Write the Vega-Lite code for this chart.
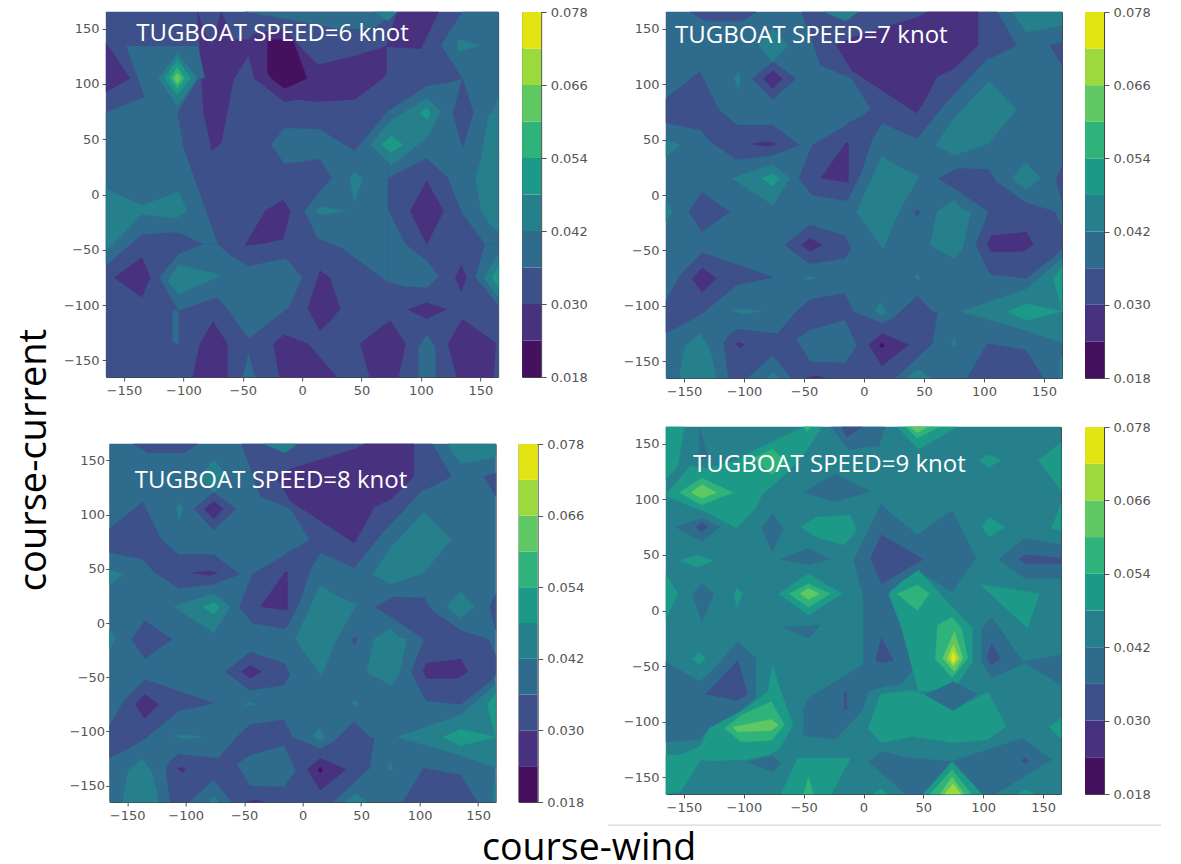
{"$schema":"https://vega.github.io/schema/vega-lite/v6.json","padding":{"left":16,"top":5,"right":0,"bottom":0},"spacing":8,"title":{"text":"course-wind","orient":"bottom","anchor":"start","dx":466,"offset":3,"font":"Open Sans","fontSize":37.5,"fontWeight":"normal","color":"#000"},"config":{"view":{"stroke":null},"axis":{"grid":false,"labelFont":"DejaVu Sans","labelFontSize":13,"labelColor":"#555","tickColor":"#555","tickSize":4,"domain":false,"title":null,"labelPadding":3}},
"datasets":{
"cb":[{"a":0.018,"b":0.024,"v":0.021},{"a":0.024,"b":0.03,"v":0.027},{"a":0.03,"b":0.036,"v":0.033},{"a":0.036,"b":0.042,"v":0.039},{"a":0.042,"b":0.048,"v":0.045},{"a":0.048,"b":0.054,"v":0.051},{"a":0.054,"b":0.06,"v":0.057},{"a":0.06,"b":0.066,"v":0.063},{"a":0.066,"b":0.072,"v":0.069},{"a":0.072,"b":0.078,"v":0.075}],
"p1":[
{"g":1,"x":-165,"y":-165,"y2":165,"v":0.033},{"g":1,"x":165,"y":-165,"y2":165,"v":0.033},
{"g":2,"x":-88,"y":165,"y2":165,"v":0.027},{"g":2,"x":-83,"y":75,"y2":148,"v":0.027},{"g":2,"x":-76,"y":40,"y2":135,"v":0.027},{"g":2,"x":-68,"y":47,"y2":165,"v":0.027},{"g":2,"x":-58,"y":104,"y2":140,"v":0.027},{"g":2,"x":-45,"y":126,"y2":140,"v":0.027},{"g":2,"x":-40,"y":105,"y2":145,"v":0.027},{"g":2,"x":-15,"y":84,"y2":150,"v":0.027},{"g":2,"x":-3,"y":86,"y2":135,"v":0.027},{"g":2,"x":13,"y":84,"y2":117,"v":0.027},{"g":2,"x":44,"y":86,"y2":125,"v":0.027},{"g":2,"x":68,"y":105,"y2":133,"v":0.027},{"g":2,"x":71,"y":110,"y2":134,"v":0.027},
{"g":3,"x":71,"y":134,"y2":134,"v":0.027},{"g":3,"x":80,"y":133,"y2":165,"v":0.027},{"g":3,"x":100,"y":132,"y2":165,"v":0.027},{"g":3,"x":115,"y":165,"y2":165,"v":0.027},
{"g":4,"x":-29,"y":110,"y2":140,"v":0.021},{"g":4,"x":-26,"y":105,"y2":140,"v":0.021},{"g":4,"x":-15,"y":96,"y2":140,"v":0.021},{"g":4,"x":-8,"y":99,"y2":140,"v":0.021},{"g":4,"x":4,"y":105,"y2":105,"v":0.021},
{"g":5,"x":-48,"y":165,"y2":165,"v":0.039},{"g":5,"x":-20,"y":160,"y2":165,"v":0.039},{"g":5,"x":30,"y":150,"y2":165,"v":0.039},{"g":5,"x":60,"y":150,"y2":165,"v":0.039},{"g":5,"x":77,"y":165,"y2":165,"v":0.039},
{"g":6,"x":61,"y":165,"y2":165,"v":0.045},{"g":6,"x":72,"y":157,"y2":165,"v":0.045},{"g":6,"x":80,"y":165,"y2":165,"v":0.045},
{"g":7,"x":-165,"y":-64,"y2":74,"v":0.039},{"g":7,"x":-135,"y":-36,"y2":87,"v":0.039},{"g":7,"x":-107,"y":-34,"y2":87,"v":0.039},{"g":7,"x":-100,"y":-36,"y2":42,"v":0.039},{"g":7,"x":-83,"y":-45,"y2":-9,"v":0.039},{"g":7,"x":-71,"y":-45,"y2":-45,"v":0.039},
{"g":8,"x":-148,"y":134,"y2":134,"v":0.039},{"g":8,"x":-132,"y":87,"y2":134,"v":0.039},{"g":8,"x":-105,"y":74,"y2":134,"v":0.039},{"g":8,"x":-88,"y":105,"y2":134,"v":0.039},{"g":8,"x":-82,"y":105,"y2":105,"v":0.039},
{"g":9,"x":-165,"y":93,"y2":137,"v":0.027},{"g":9,"x":-145,"y":105,"y2":105,"v":0.027},
{"g":10,"x":-121,"y":105,"y2":105,"v":0.045},{"g":10,"x":-105,"y":80,"y2":127,"v":0.045},{"g":10,"x":-88,"y":105,"y2":105,"v":0.045},
{"g":11,"x":-116,"y":105,"y2":105,"v":0.051},{"g":11,"x":-105,"y":90,"y2":122,"v":0.051},{"g":11,"x":-94,"y":105,"y2":105,"v":0.051},
{"g":12,"x":-111,"y":105,"y2":105,"v":0.057},{"g":12,"x":-105,"y":96,"y2":115,"v":0.057},{"g":12,"x":-99,"y":105,"y2":105,"v":0.057},
{"g":13,"x":-108,"y":105,"y2":105,"v":0.063},{"g":13,"x":-105,"y":100,"y2":110,"v":0.063},{"g":13,"x":-102,"y":105,"y2":105,"v":0.063},
{"g":14,"x":-26,"y":45,"y2":45,"v":0.039},{"g":14,"x":-15,"y":28,"y2":60,"v":0.039},{"g":14,"x":15,"y":32,"y2":59,"v":0.039},{"g":14,"x":25,"y":15,"y2":52,"v":0.039},{"g":14,"x":44,"y":15,"y2":39,"v":0.039},{"g":14,"x":72,"y":15,"y2":75,"v":0.039},
{"g":15,"x":2,"y":-15,"y2":-15,"v":0.039},{"g":15,"x":13,"y":-39,"y2":0,"v":0.039},{"g":15,"x":25,"y":-45,"y2":15,"v":0.039},{"g":15,"x":33,"y":-48,"y2":15,"v":0.039},{"g":15,"x":72,"y":-79,"y2":15,"v":0.039},
{"g":16,"x":72,"y":-79,"y2":-13,"v":0.039},{"g":16,"x":87,"y":-83,"y2":-45,"v":0.039},{"g":16,"x":105,"y":-84,"y2":-60,"v":0.039},{"g":16,"x":115,"y":-74,"y2":-74,"v":0.039},
{"g":17,"x":72,"y":15,"y2":75,"v":0.039},{"g":17,"x":105,"y":33,"y2":98,"v":0.039},{"g":17,"x":123,"y":15,"y2":101,"v":0.039},{"g":17,"x":134,"y":-15,"y2":104,"v":0.039},{"g":17,"x":135,"y":-17,"y2":165,"v":0.039},{"g":17,"x":154,"y":-45,"y2":165,"v":0.039},{"g":17,"x":165,"y":-45,"y2":165,"v":0.039},
{"g":18,"x":117,"y":135,"y2":135,"v":0.039},{"g":18,"x":135,"y":105,"y2":165,"v":0.039},
{"g":19,"x":146,"y":-75,"y2":-75,"v":0.039},{"g":19,"x":154,"y":-85,"y2":-45,"v":0.039},{"g":19,"x":165,"y":-100,"y2":-45,"v":0.039},
{"g":20,"x":127,"y":74,"y2":74,"v":0.033},{"g":20,"x":135,"y":42,"y2":105,"v":0.033},{"g":20,"x":144,"y":74,"y2":74,"v":0.033},
{"g":21,"x":131,"y":129,"y2":140,"v":0.045},{"g":21,"x":150,"y":135,"y2":135,"v":0.045},
{"g":22,"x":146,"y":15,"y2":15,"v":0.045},{"g":22,"x":151,"y":-15,"y2":33,"v":0.045},{"g":22,"x":157,"y":-25,"y2":72,"v":0.045},{"g":22,"x":161,"y":-30,"y2":75,"v":0.045},{"g":22,"x":165,"y":-33,"y2":87,"v":0.045},
{"g":23,"x":153,"y":-75,"y2":-75,"v":0.045},{"g":23,"x":165,"y":-93,"y2":-55,"v":0.045},
{"g":24,"x":160,"y":-75,"y2":-75,"v":0.051},{"g":24,"x":165,"y":-83,"y2":-65,"v":0.051},
{"g":25,"x":58,"y":45,"y2":45,"v":0.045},{"g":25,"x":71,"y":31,"y2":63,"v":0.045},{"g":25,"x":75,"y":27,"y2":67,"v":0.045},{"g":25,"x":105,"y":51,"y2":87,"v":0.045},{"g":25,"x":117,"y":75,"y2":75,"v":0.045},
{"g":26,"x":67,"y":45,"y2":45,"v":0.051},{"g":26,"x":75,"y":38,"y2":53,"v":0.051},{"g":26,"x":85,"y":45,"y2":45,"v":0.051},
{"g":27,"x":99,"y":74,"y2":74,"v":0.051},{"g":27,"x":105,"y":68,"y2":78,"v":0.051},{"g":27,"x":108,"y":74,"y2":74,"v":0.051},
{"g":28,"x":91,"y":-15,"y2":-15,"v":0.027},{"g":28,"x":105,"y":-45,"y2":12,"v":0.027},{"g":28,"x":119,"y":-15,"y2":-15,"v":0.027},
{"g":29,"x":40,"y":15,"y2":15,"v":0.045},{"g":29,"x":44,"y":-7,"y2":20,"v":0.045},{"g":29,"x":51,"y":15,"y2":15,"v":0.045},
{"g":30,"x":12,"y":-15,"y2":-15,"v":0.045},{"g":30,"x":15,"y":-18,"y2":-11,"v":0.045},{"g":30,"x":36,"y":-15,"y2":-15,"v":0.045},
{"g":31,"x":-48,"y":-46,"y2":-46,"v":0.027},{"g":31,"x":-31,"y":-44,"y2":-15,"v":0.027},{"g":31,"x":-16,"y":-40,"y2":-5,"v":0.027},{"g":31,"x":-10,"y":-15,"y2":-15,"v":0.027},
{"g":32,"x":-120,"y":-75,"y2":-75,"v":0.039},{"g":32,"x":-104,"y":-105,"y2":-54,"v":0.039},{"g":32,"x":-83,"y":-97,"y2":-45,"v":0.039},{"g":32,"x":-71,"y":-93,"y2":-45,"v":0.039},{"g":32,"x":-61,"y":-106,"y2":-55,"v":0.039},{"g":32,"x":-45,"y":-130,"y2":-65,"v":0.039},{"g":32,"x":-15,"y":-105,"y2":-58,"v":0.039},{"g":32,"x":-12,"y":-103,"y2":-60,"v":0.039},{"g":32,"x":0,"y":-75,"y2":-75,"v":0.039},
{"g":33,"x":-109,"y":-133,"y2":-105,"v":0.039},{"g":33,"x":-104,"y":-136,"y2":-105,"v":0.039},
{"g":34,"x":-113,"y":-78,"y2":-78,"v":0.045},{"g":34,"x":-104,"y":-90,"y2":-64,"v":0.045},{"g":34,"x":-68,"y":-73,"y2":-73,"v":0.045},
{"g":35,"x":-165,"y":-51,"y2":5,"v":0.045},{"g":35,"x":-135,"y":-18,"y2":-10,"v":0.045},{"g":35,"x":-107,"y":-21,"y2":1,"v":0.045},{"g":35,"x":-104,"y":-20,"y2":2,"v":0.045},{"g":35,"x":-97,"y":-15,"y2":-15,"v":0.045},
{"g":36,"x":-158,"y":-75,"y2":-75,"v":0.027},{"g":36,"x":-135,"y":-93,"y2":-57,"v":0.027},{"g":36,"x":-128,"y":-75,"y2":-75,"v":0.027},
{"g":37,"x":5,"y":-103,"y2":-103,"v":0.027},{"g":37,"x":15,"y":-123,"y2":-69,"v":0.027},{"g":37,"x":23,"y":-115,"y2":-75,"v":0.027},{"g":37,"x":32,"y":-103,"y2":-103,"v":0.027},
{"g":38,"x":129,"y":-75,"y2":-75,"v":0.027},{"g":38,"x":134,"y":-88,"y2":-64,"v":0.027},{"g":38,"x":138,"y":-75,"y2":-75,"v":0.027},
{"g":39,"x":89,"y":-104,"y2":-104,"v":0.027},{"g":39,"x":105,"y":-112,"y2":-98,"v":0.027},{"g":39,"x":121,"y":-104,"y2":-104,"v":0.027},
{"g":40,"x":-92,"y":-165,"y2":-165,"v":0.027},{"g":40,"x":-86,"y":-165,"y2":-135,"v":0.027},{"g":40,"x":-75,"y":-165,"y2":-115,"v":0.027},{"g":40,"x":-63,"y":-165,"y2":-135,"v":0.027},
{"g":41,"x":-24,"y":-135,"y2":-135,"v":0.027},{"g":41,"x":-19,"y":-165,"y2":-130,"v":0.027},{"g":41,"x":-15,"y":-165,"y2":-127,"v":0.027},{"g":41,"x":5,"y":-165,"y2":-135,"v":0.027},{"g":41,"x":29,"y":-165,"y2":-165,"v":0.027},
{"g":42,"x":49,"y":-135,"y2":-135,"v":0.027},{"g":42,"x":57,"y":-165,"y2":-128,"v":0.027},{"g":42,"x":74,"y":-165,"y2":-114,"v":0.027},{"g":42,"x":81,"y":-165,"y2":-125,"v":0.027},{"g":42,"x":87,"y":-135,"y2":-135,"v":0.027},
{"g":43,"x":123,"y":-135,"y2":-135,"v":0.027},{"g":43,"x":130,"y":-165,"y2":-122,"v":0.027},{"g":43,"x":135,"y":-165,"y2":-113,"v":0.027},{"g":43,"x":161,"y":-165,"y2":-133,"v":0.027},{"g":43,"x":163,"y":-135,"y2":-135,"v":0.027},
{"g":44,"x":-50,"y":-165,"y2":-165,"v":0.039},{"g":44,"x":-45,"y":-165,"y2":-144,"v":0.039},{"g":44,"x":-40,"y":-165,"y2":-165,"v":0.039},
{"g":45,"x":98,"y":-165,"y2":-138,"v":0.039},{"g":45,"x":105,"y":-165,"y2":-127,"v":0.039},{"g":45,"x":112,"y":-165,"y2":-138,"v":0.039}
],
"p23":[
{"g":1,"x":-165,"y":-165,"y2":165,"v":0.039},{"g":1,"x":165,"y":-165,"y2":165,"v":0.039},
{"g":2,"x":-52,"y":165,"y2":165,"v":0.033},{"g":2,"x":-36,"y":117,"y2":165,"v":0.033},{"g":2,"x":-10,"y":105,"y2":165,"v":0.033},{"g":2,"x":6,"y":77,"y2":165,"v":0.033},{"g":2,"x":15,"y":65,"y2":165,"v":0.033},{"g":2,"x":44,"y":51,"y2":165,"v":0.033},{"g":2,"x":68,"y":83,"y2":165,"v":0.033},{"g":2,"x":103,"y":123,"y2":165,"v":0.033},{"g":2,"x":111,"y":126,"y2":165,"v":0.033},{"g":2,"x":127,"y":135,"y2":135,"v":0.033},
{"g":3,"x":-33,"y":165,"y2":165,"v":0.045},{"g":3,"x":-15,"y":157,"y2":165,"v":0.045},{"g":3,"x":-5,"y":165,"y2":165,"v":0.045},
{"g":4,"x":-23,"y":135,"y2":135,"v":0.027},{"g":4,"x":-10,"y":112,"y2":142,"v":0.027},{"g":4,"x":44,"y":74,"y2":160,"v":0.027},{"g":4,"x":53,"y":90,"y2":165,"v":0.027},{"g":4,"x":61,"y":107,"y2":165,"v":0.027},{"g":4,"x":75,"y":114,"y2":165,"v":0.027},{"g":4,"x":95,"y":135,"y2":165,"v":0.027},
{"g":5,"x":-145,"y":165,"y2":165,"v":0.033},{"g":5,"x":-132,"y":157,"y2":165,"v":0.033},{"g":5,"x":-101,"y":157,"y2":165,"v":0.033},{"g":5,"x":-90,"y":165,"y2":165,"v":0.033},
{"g":6,"x":124,"y":165,"y2":165,"v":0.045},{"g":6,"x":135,"y":147,"y2":165,"v":0.045},{"g":6,"x":165,"y":153,"y2":165,"v":0.045},
{"g":7,"x":155,"y":135,"y2":135,"v":0.033},{"g":7,"x":165,"y":117,"y2":138,"v":0.033},
{"g":8,"x":-165,"y":65,"y2":87,"v":0.033},{"g":8,"x":-137,"y":59,"y2":111,"v":0.033},{"g":8,"x":-127,"y":47,"y2":90,"v":0.033},{"g":8,"x":-121,"y":43,"y2":77,"v":0.033},{"g":8,"x":-106,"y":32,"y2":63,"v":0.033},{"g":8,"x":-76,"y":36,"y2":63,"v":0.033},{"g":8,"x":-54,"y":45,"y2":45,"v":0.033},
{"g":9,"x":-94,"y":46,"y2":46,"v":0.027},{"g":9,"x":-80,"y":44,"y2":48,"v":0.027},{"g":9,"x":-73,"y":46,"y2":46,"v":0.027},
{"g":10,"x":-93,"y":105,"y2":105,"v":0.033},{"g":10,"x":-76,"y":86,"y2":120,"v":0.033},{"g":10,"x":-57,"y":105,"y2":105,"v":0.033},
{"g":11,"x":-84,"y":105,"y2":105,"v":0.027},{"g":11,"x":-76,"y":96,"y2":112,"v":0.027},{"g":11,"x":-68,"y":105,"y2":105,"v":0.027},
{"g":12,"x":-165,"y":35,"y2":49,"v":0.045},{"g":12,"x":-153,"y":45,"y2":45,"v":0.045},
{"g":13,"x":-165,"y":-24,"y2":-6,"v":0.045},{"g":13,"x":-160,"y":-15,"y2":-15,"v":0.045},
{"g":14,"x":-108,"y":105,"y2":105,"v":0.045},{"g":14,"x":-105,"y":95,"y2":111,"v":0.045},{"g":14,"x":-103,"y":105,"y2":105,"v":0.045},
{"g":15,"x":-88,"y":135,"y2":135,"v":0.045},{"g":15,"x":-76,"y":120,"y2":150,"v":0.045},{"g":15,"x":-64,"y":135,"y2":135,"v":0.045},
{"g":16,"x":-110,"y":15,"y2":15,"v":0.045},{"g":16,"x":-76,"y":-9,"y2":27,"v":0.045},{"g":16,"x":-62,"y":15,"y2":15,"v":0.045},
{"g":17,"x":-85,"y":15,"y2":15,"v":0.051},{"g":17,"x":-76,"y":8,"y2":19,"v":0.051},{"g":17,"x":-71,"y":15,"y2":15,"v":0.051},
{"g":18,"x":-54,"y":15,"y2":15,"v":0.033},{"g":18,"x":-43,"y":0,"y2":45,"v":0.033},{"g":18,"x":-16,"y":-5,"y2":62,"v":0.033},{"g":18,"x":-13,"y":-3,"y2":65,"v":0.033},{"g":18,"x":-2,"y":21,"y2":71,"v":0.033},{"g":18,"x":6,"y":48,"y2":77,"v":0.033},{"g":18,"x":15,"y":65,"y2":65,"v":0.033},
{"g":19,"x":-36,"y":15,"y2":15,"v":0.027},{"g":19,"x":-15,"y":12,"y2":47,"v":0.027},{"g":19,"x":-13,"y":12,"y2":47,"v":0.027},
{"g":20,"x":-6,"y":-15,"y2":-15,"v":0.045},{"g":20,"x":15,"y":-47,"y2":35,"v":0.045},{"g":20,"x":16,"y":-48,"y2":34,"v":0.045},{"g":20,"x":29,"y":-15,"y2":25,"v":0.045},{"g":20,"x":46,"y":17,"y2":17,"v":0.045},
{"g":21,"x":42,"y":-15,"y2":-15,"v":0.033},{"g":21,"x":44,"y":-20,"y2":-13,"v":0.033},{"g":21,"x":47,"y":-15,"y2":-15,"v":0.033},
{"g":22,"x":55,"y":-45,"y2":-45,"v":0.045},{"g":22,"x":61,"y":-49,"y2":-15,"v":0.045},{"g":22,"x":75,"y":-57,"y2":-5,"v":0.045},{"g":22,"x":82,"y":-48,"y2":-13,"v":0.045},{"g":22,"x":89,"y":-15,"y2":-15,"v":0.045},
{"g":23,"x":60,"y":45,"y2":45,"v":0.045},{"g":23,"x":75,"y":36,"y2":69,"v":0.045},{"g":23,"x":100,"y":45,"y2":98,"v":0.045},{"g":23,"x":104,"y":47,"y2":102,"v":0.045},{"g":23,"x":127,"y":77,"y2":77,"v":0.045},
{"g":24,"x":123,"y":15,"y2":15,"v":0.045},{"g":24,"x":135,"y":5,"y2":29,"v":0.045},{"g":24,"x":147,"y":15,"y2":15,"v":0.045},
{"g":25,"x":62,"y":15,"y2":15,"v":0.033},{"g":25,"x":78,"y":4,"y2":24,"v":0.033},{"g":25,"x":104,"y":-15,"y2":23,"v":0.033},{"g":25,"x":110,"y":-18,"y2":12,"v":0.033},
{"g":26,"x":93,"y":-45,"y2":-45,"v":0.033},{"g":26,"x":104,"y":-69,"y2":-15,"v":0.033},{"g":26,"x":107,"y":-72,"y2":-14,"v":0.033},{"g":26,"x":110,"y":-72,"y2":12,"v":0.033},{"g":26,"x":135,"y":-75,"y2":-7,"v":0.033},{"g":26,"x":159,"y":-55,"y2":-15,"v":0.033},{"g":26,"x":165,"y":-48,"y2":-30,"v":0.033},
{"g":27,"x":103,"y":-45,"y2":-45,"v":0.027},{"g":27,"x":106,"y":-51,"y2":-37,"v":0.027},{"g":27,"x":131,"y":-51,"y2":-34,"v":0.027},{"g":27,"x":135,"y":-49,"y2":-33,"v":0.027},{"g":27,"x":141,"y":-45,"y2":-45,"v":0.027},
{"g":28,"x":160,"y":15,"y2":15,"v":0.033},{"g":28,"x":165,"y":-6,"y2":26,"v":0.033},
{"g":29,"x":-66,"y":-45,"y2":-45,"v":0.033},{"g":29,"x":-45,"y":-62,"y2":-27,"v":0.033},{"g":29,"x":-16,"y":-57,"y2":-37,"v":0.033},{"g":29,"x":-11,"y":-48,"y2":-48,"v":0.033},
{"g":30,"x":-52,"y":-45,"y2":-45,"v":0.027},{"g":30,"x":-45,"y":-51,"y2":-39,"v":0.027},{"g":30,"x":-35,"y":-45,"y2":-45,"v":0.027},
{"g":31,"x":-146,"y":-15,"y2":-15,"v":0.033},{"g":31,"x":-135,"y":-33,"y2":2,"v":0.033},{"g":31,"x":-112,"y":-15,"y2":-15,"v":0.033},
{"g":32,"x":-165,"y":-124,"y2":-95,"v":0.033},{"g":32,"x":-153,"y":-118,"y2":-72,"v":0.033},{"g":32,"x":-135,"y":-107,"y2":-52,"v":0.033},{"g":32,"x":-106,"y":-81,"y2":-63,"v":0.033},{"g":32,"x":-76,"y":-74,"y2":-74,"v":0.033},
{"g":33,"x":-143,"y":-75,"y2":-75,"v":0.027},{"g":33,"x":-135,"y":-88,"y2":-66,"v":0.027},{"g":33,"x":-123,"y":-75,"y2":-75,"v":0.027},
{"g":34,"x":81,"y":-105,"y2":-105,"v":0.045},{"g":34,"x":135,"y":-122,"y2":-85,"v":0.045},{"g":34,"x":165,"y":-133,"y2":-57,"v":0.045},
{"g":35,"x":120,"y":-105,"y2":-105,"v":0.051},{"g":35,"x":135,"y":-113,"y2":-98,"v":0.051},{"g":35,"x":165,"y":-105,"y2":-105,"v":0.051},
{"g":36,"x":158,"y":-75,"y2":-75,"v":0.051},{"g":36,"x":165,"y":-105,"y2":-65,"v":0.051},
{"g":37,"x":-117,"y":-134,"y2":-134,"v":0.033},{"g":37,"x":-113,"y":-165,"y2":-127,"v":0.033},{"g":37,"x":-106,"y":-165,"y2":-121,"v":0.033},{"g":37,"x":-72,"y":-165,"y2":-125,"v":0.033},{"g":37,"x":-57,"y":-165,"y2":-106,"v":0.033},{"g":37,"x":-45,"y":-165,"y2":-94,"v":0.033},{"g":37,"x":-16,"y":-165,"y2":-89,"v":0.033},{"g":37,"x":-9,"y":-165,"y2":-105,"v":0.033},{"g":37,"x":15,"y":-165,"y2":-116,"v":0.033},{"g":37,"x":26,"y":-165,"y2":-110,"v":0.033},{"g":37,"x":44,"y":-147,"y2":-91,"v":0.033},{"g":37,"x":57,"y":-134,"y2":-105,"v":0.033},{"g":37,"x":61,"y":-106,"y2":-106,"v":0.033},
{"g":38,"x":-56,"y":-130,"y2":-130,"v":0.039},{"g":38,"x":-45,"y":-150,"y2":-122,"v":0.039},{"g":38,"x":-16,"y":-151,"y2":-113,"v":0.039},{"g":38,"x":-6,"y":-136,"y2":-136,"v":0.039},
{"g":39,"x":-97,"y":-165,"y2":-165,"v":0.039},{"g":39,"x":-76,"y":-165,"y2":-145,"v":0.039},{"g":39,"x":-61,"y":-165,"y2":-165,"v":0.039},
{"g":40,"x":-80,"y":-165,"y2":-165,"v":0.045},{"g":40,"x":-76,"y":-165,"y2":-160,"v":0.045},{"g":40,"x":-72,"y":-165,"y2":-165,"v":0.045},
{"g":41,"x":-107,"y":-134,"y2":-134,"v":0.027},{"g":41,"x":-103,"y":-138,"y2":-133,"v":0.027},{"g":41,"x":-100,"y":-135,"y2":-135,"v":0.027},
{"g":42,"x":4,"y":-135,"y2":-135,"v":0.027},{"g":42,"x":15,"y":-154,"y2":-125,"v":0.027},{"g":42,"x":37,"y":-135,"y2":-135,"v":0.027},
{"g":43,"x":13,"y":-136,"y2":-136,"v":0.021},{"g":43,"x":15,"y":-138,"y2":-133,"v":0.021},{"g":43,"x":17,"y":-136,"y2":-136,"v":0.021},
{"g":44,"x":-48,"y":-165,"y2":-165,"v":0.027},{"g":44,"x":-40,"y":-165,"y2":-163,"v":0.027},{"g":44,"x":-33,"y":-165,"y2":-165,"v":0.027},
{"g":45,"x":36,"y":-165,"y2":-165,"v":0.045},{"g":45,"x":45,"y":-165,"y2":-157,"v":0.045},{"g":45,"x":55,"y":-165,"y2":-165,"v":0.045},
{"g":46,"x":-154,"y":-165,"y2":-165,"v":0.045},{"g":46,"x":-149,"y":-165,"y2":-136,"v":0.045},{"g":46,"x":-137,"y":-165,"y2":-125,"v":0.045},{"g":46,"x":-129,"y":-165,"y2":-137,"v":0.045},{"g":46,"x":-123,"y":-165,"y2":-165,"v":0.045},
{"g":47,"x":-110,"y":-104,"y2":-104,"v":0.045},{"g":47,"x":-100,"y":-107,"y2":-103,"v":0.045},{"g":47,"x":-86,"y":-105,"y2":-105,"v":0.045},
{"g":48,"x":-50,"y":-75,"y2":-75,"v":0.045},{"g":48,"x":-45,"y":-76,"y2":-73,"v":0.045},{"g":48,"x":-40,"y":-75,"y2":-75,"v":0.045},
{"g":49,"x":42,"y":-74,"y2":-74,"v":0.045},{"g":49,"x":45,"y":-76,"y2":-71,"v":0.045},{"g":49,"x":47,"y":-76,"y2":-76,"v":0.045},
{"g":50,"x":9,"y":-104,"y2":-104,"v":0.045},{"g":50,"x":14,"y":-108,"y2":-97,"v":0.045},{"g":50,"x":19,"y":-106,"y2":-106,"v":0.045},
{"g":51,"x":73,"y":-134,"y2":-134,"v":0.045},{"g":51,"x":75,"y":-136,"y2":-128,"v":0.045},{"g":51,"x":77,"y":-136,"y2":-136,"v":0.045},
{"g":52,"x":86,"y":-165,"y2":-165,"v":0.033},{"g":52,"x":103,"y":-165,"y2":-134,"v":0.033},{"g":52,"x":135,"y":-165,"y2":-140,"v":0.033},{"g":52,"x":149,"y":-165,"y2":-165,"v":0.033},
{"g":53,"x":163,"y":-165,"y2":-150,"v":0.045},{"g":53,"x":165,"y":-165,"y2":-145,"v":0.045}
],
"p4":[
{"g":1,"x":-165,"y":-165,"y2":165,"v":0.045},{"g":1,"x":165,"y":-165,"y2":165,"v":0.045},
{"g":2,"x":-165,"y":103,"y2":104,"v":0.051},{"g":2,"x":-145,"y":94,"y2":130,"v":0.051},{"g":2,"x":-130,"y":88,"y2":128,"v":0.051},{"g":2,"x":-106,"y":74,"y2":135,"v":0.051},{"g":2,"x":-90,"y":92,"y2":145,"v":0.051},{"g":2,"x":-85,"y":104,"y2":147,"v":0.051},{"g":2,"x":-66,"y":122,"y2":157,"v":0.051},{"g":2,"x":-50,"y":140,"y2":165,"v":0.051},{"g":2,"x":-36,"y":163,"y2":165,"v":0.051},
{"g":3,"x":-154,"y":106,"y2":106,"v":0.057},{"g":3,"x":-135,"y":95,"y2":119,"v":0.057},{"g":3,"x":-109,"y":106,"y2":106,"v":0.057},
{"g":4,"x":-144,"y":106,"y2":106,"v":0.063},{"g":4,"x":-135,"y":101,"y2":113,"v":0.063},{"g":4,"x":-123,"y":106,"y2":106,"v":0.063},
{"g":5,"x":-92,"y":137,"y2":137,"v":0.057},{"g":5,"x":-76,"y":122,"y2":145,"v":0.057},{"g":5,"x":-66,"y":135,"y2":135,"v":0.057},
{"g":6,"x":-165,"y":118,"y2":165,"v":0.051},{"g":6,"x":-155,"y":130,"y2":165,"v":0.051},{"g":6,"x":-150,"y":165,"y2":165,"v":0.051},
{"g":7,"x":-137,"y":137,"y2":165,"v":0.039},{"g":7,"x":-130,"y":137,"y2":137,"v":0.039},
{"g":8,"x":-50,"y":165,"y2":165,"v":0.057},{"g":8,"x":-47,"y":161,"y2":165,"v":0.057},{"g":8,"x":-44,"y":165,"y2":165,"v":0.057},
{"g":9,"x":28,"y":165,"y2":165,"v":0.051},{"g":9,"x":46,"y":145,"y2":165,"v":0.051},{"g":9,"x":78,"y":165,"y2":165,"v":0.051},
{"g":10,"x":35,"y":165,"y2":165,"v":0.057},{"g":10,"x":45,"y":155,"y2":165,"v":0.057},{"g":10,"x":63,"y":165,"y2":165,"v":0.057},
{"g":11,"x":39,"y":165,"y2":165,"v":0.063},{"g":11,"x":45,"y":160,"y2":165,"v":0.063},{"g":11,"x":53,"y":165,"y2":165,"v":0.063},
{"g":12,"x":-27,"y":165,"y2":165,"v":0.039},{"g":12,"x":-13,"y":145,"y2":165,"v":0.039},{"g":12,"x":13,"y":148,"y2":165,"v":0.039},{"g":12,"x":18,"y":165,"y2":165,"v":0.039},
{"g":13,"x":-18,"y":165,"y2":165,"v":0.033},{"g":13,"x":-14,"y":156,"y2":165,"v":0.033},{"g":13,"x":-1,"y":165,"y2":165,"v":0.033},
{"g":14,"x":96,"y":135,"y2":135,"v":0.051},{"g":14,"x":105,"y":129,"y2":140,"v":0.051},{"g":14,"x":115,"y":135,"y2":135,"v":0.051},
{"g":15,"x":146,"y":135,"y2":135,"v":0.051},{"g":15,"x":165,"y":108,"y2":151,"v":0.051},
{"g":16,"x":157,"y":74,"y2":74,"v":0.051},{"g":16,"x":165,"y":72,"y2":96,"v":0.051},
{"g":17,"x":99,"y":75,"y2":75,"v":0.051},{"g":17,"x":105,"y":66,"y2":84,"v":0.051},{"g":17,"x":118,"y":75,"y2":75,"v":0.051},
{"g":18,"x":-50,"y":106,"y2":106,"v":0.039},{"g":18,"x":-24,"y":98,"y2":123,"v":0.039},{"g":18,"x":6,"y":107,"y2":107,"v":0.039},
{"g":19,"x":-52,"y":75,"y2":75,"v":0.051},{"g":19,"x":-40,"y":66,"y2":84,"v":0.051},{"g":19,"x":-17,"y":59,"y2":85,"v":0.051},{"g":19,"x":-11,"y":65,"y2":86,"v":0.051},{"g":19,"x":-6,"y":72,"y2":72,"v":0.051},
{"g":20,"x":-157,"y":75,"y2":75,"v":0.039},{"g":20,"x":-135,"y":62,"y2":83,"v":0.039},{"g":20,"x":-120,"y":75,"y2":75,"v":0.039},
{"g":21,"x":-140,"y":75,"y2":75,"v":0.033},{"g":21,"x":-135,"y":71,"y2":79,"v":0.033},{"g":21,"x":-130,"y":75,"y2":75,"v":0.033},
{"g":22,"x":-85,"y":74,"y2":74,"v":0.039},{"g":22,"x":-76,"y":53,"y2":87,"v":0.039},{"g":22,"x":-67,"y":74,"y2":74,"v":0.039},
{"g":23,"x":-153,"y":45,"y2":45,"v":0.051},{"g":23,"x":-139,"y":39,"y2":50,"v":0.051},{"g":23,"x":-125,"y":45,"y2":45,"v":0.051},
{"g":24,"x":-69,"y":46,"y2":46,"v":0.039},{"g":24,"x":-46,"y":41,"y2":56,"v":0.039},{"g":24,"x":-28,"y":46,"y2":46,"v":0.039},
{"g":25,"x":-165,"y":-7,"y2":32,"v":0.051},{"g":25,"x":-155,"y":15,"y2":15,"v":0.051},
{"g":26,"x":-71,"y":15,"y2":15,"v":0.051},{"g":26,"x":-46,"y":-4,"y2":33,"v":0.051},{"g":26,"x":-18,"y":15,"y2":15,"v":0.051},
{"g":27,"x":-62,"y":15,"y2":15,"v":0.057},{"g":27,"x":-46,"y":3,"y2":24,"v":0.057},{"g":27,"x":-28,"y":15,"y2":15,"v":0.057},
{"g":28,"x":-53,"y":15,"y2":15,"v":0.063},{"g":28,"x":-46,"y":10,"y2":20,"v":0.063},{"g":28,"x":-37,"y":15,"y2":15,"v":0.063},
{"g":29,"x":-143,"y":15,"y2":15,"v":0.039},{"g":29,"x":-135,"y":-10,"y2":24,"v":0.039},{"g":29,"x":-125,"y":15,"y2":15,"v":0.039},
{"g":30,"x":-108,"y":15,"y2":15,"v":0.051},{"g":30,"x":-106,"y":3,"y2":20,"v":0.051},{"g":30,"x":-101,"y":15,"y2":15,"v":0.051},
{"g":31,"x":-67,"y":-15,"y2":-15,"v":0.039},{"g":31,"x":-46,"y":-25,"y2":-14,"v":0.039},{"g":31,"x":-36,"y":-13,"y2":-13,"v":0.039},
{"g":32,"x":-143,"y":-43,"y2":-43,"v":0.051},{"g":32,"x":-137,"y":-49,"y2":-38,"v":0.051},{"g":32,"x":-132,"y":-43,"y2":-43,"v":0.051},
{"g":33,"x":-165,"y":-118,"y2":-46,"v":0.039},{"g":33,"x":-137,"y":-116,"y2":-64,"v":0.039},{"g":33,"x":-127,"y":-104,"y2":-55,"v":0.039},{"g":33,"x":-105,"y":-92,"y2":-28,"v":0.039},{"g":33,"x":-90,"y":-78,"y2":-43,"v":0.039},
{"g":34,"x":-132,"y":-75,"y2":-75,"v":0.033},{"g":34,"x":-105,"y":-81,"y2":-45,"v":0.033},{"g":34,"x":-97,"y":-75,"y2":-75,"v":0.033},
{"g":35,"x":-165,"y":-165,"y2":-130,"v":0.051},{"g":35,"x":-153,"y":-163,"y2":-130,"v":0.051},{"g":35,"x":-136,"y":-134,"y2":-122,"v":0.051},{"g":35,"x":-129,"y":-135,"y2":-106,"v":0.051},{"g":35,"x":-98,"y":-134,"y2":-88,"v":0.051},{"g":35,"x":-80,"y":-130,"y2":-73,"v":0.051},{"g":35,"x":-76,"y":-128,"y2":-49,"v":0.051},{"g":35,"x":-70,"y":-124,"y2":-70,"v":0.051},{"g":35,"x":-59,"y":-103,"y2":-103,"v":0.051},
{"g":36,"x":-116,"y":-106,"y2":-106,"v":0.057},{"g":36,"x":-102,"y":-118,"y2":-94,"v":0.057},{"g":36,"x":-77,"y":-117,"y2":-82,"v":0.057},{"g":36,"x":-66,"y":-103,"y2":-103,"v":0.057},
{"g":37,"x":-109,"y":-105,"y2":-105,"v":0.063},{"g":37,"x":-105,"y":-109,"y2":-104,"v":0.063},{"g":37,"x":-77,"y":-108,"y2":-98,"v":0.063},{"g":37,"x":-71,"y":-103,"y2":-103,"v":0.063},
{"g":38,"x":-50,"y":-112,"y2":-90,"v":0.039},{"g":38,"x":-46,"y":-113,"y2":-79,"v":0.039},{"g":38,"x":-24,"y":-116,"y2":-64,"v":0.039},{"g":38,"x":-1,"y":-90,"y2":-49,"v":0.039},{"g":38,"x":0,"y":-88,"y2":-49,"v":0.039},
{"g":39,"x":-8,"y":45,"y2":45,"v":0.039},{"g":39,"x":0,"y":12,"y2":63,"v":0.039},{"g":39,"x":15,"y":12,"y2":96,"v":0.039},{"g":39,"x":21,"y":17,"y2":89,"v":0.039},{"g":39,"x":45,"y":36,"y2":68,"v":0.039},{"g":39,"x":74,"y":17,"y2":90,"v":0.039},{"g":39,"x":94,"y":47,"y2":47,"v":0.039},
{"g":40,"x":0,"y":-88,"y2":12,"v":0.039},{"g":40,"x":4,"y":-72,"y2":12,"v":0.039},{"g":40,"x":21,"y":-68,"y2":17,"v":0.039},{"g":40,"x":32,"y":-66,"y2":-16,"v":0.039},{"g":40,"x":46,"y":-46,"y2":-46,"v":0.039},
{"g":41,"x":6,"y":47,"y2":47,"v":0.033},{"g":41,"x":15,"y":24,"y2":68,"v":0.033},{"g":41,"x":50,"y":46,"y2":46,"v":0.033},
{"g":42,"x":10,"y":-45,"y2":-45,"v":0.033},{"g":42,"x":15,"y":-47,"y2":-25,"v":0.033},{"g":42,"x":25,"y":-45,"y2":-45,"v":0.033},
{"g":43,"x":-16,"y":-89,"y2":-73,"v":0.033},{"g":43,"x":-14,"y":-89,"y2":-73,"v":0.033},
{"g":44,"x":113,"y":46,"y2":46,"v":0.039},{"g":44,"x":135,"y":29,"y2":65,"v":0.039},{"g":44,"x":165,"y":29,"y2":59,"v":0.039},
{"g":45,"x":130,"y":46,"y2":46,"v":0.033},{"g":45,"x":135,"y":42,"y2":50,"v":0.033},{"g":45,"x":165,"y":42,"y2":47,"v":0.033},
{"g":46,"x":21,"y":15,"y2":15,"v":0.051},{"g":46,"x":32,"y":-16,"y2":26,"v":0.051},{"g":46,"x":46,"y":-73,"y2":36,"v":0.051},{"g":46,"x":76,"y":-70,"y2":1,"v":0.051},{"g":46,"x":91,"y":-46,"y2":-16,"v":0.051},
{"g":47,"x":4,"y":-106,"y2":-106,"v":0.051},{"g":47,"x":14,"y":-118,"y2":-76,"v":0.051},{"g":47,"x":15,"y":-119,"y2":-75,"v":0.051},{"g":47,"x":41,"y":-113,"y2":-72,"v":0.051},{"g":47,"x":52,"y":-115,"y2":-76,"v":0.051},{"g":47,"x":75,"y":-119,"y2":-90,"v":0.051},{"g":47,"x":104,"y":-116,"y2":-73,"v":0.051},{"g":47,"x":119,"y":-104,"y2":-104,"v":0.051},
{"g":48,"x":52,"y":-76,"y2":-76,"v":0.039},{"g":48,"x":75,"y":-90,"y2":-64,"v":0.039},{"g":48,"x":95,"y":-75,"y2":-75,"v":0.039},
{"g":49,"x":28,"y":15,"y2":15,"v":0.057},{"g":49,"x":45,"y":0,"y2":23,"v":0.057},{"g":49,"x":55,"y":15,"y2":15,"v":0.057},
{"g":50,"x":60,"y":-43,"y2":-43,"v":0.057},{"g":50,"x":62,"y":-46,"y2":-13,"v":0.057},{"g":50,"x":74,"y":-60,"y2":-6,"v":0.057},{"g":50,"x":82,"y":-50,"y2":-16,"v":0.057},{"g":50,"x":87,"y":-43,"y2":-43,"v":0.057},
{"g":51,"x":66,"y":-43,"y2":-43,"v":0.063},{"g":51,"x":76,"y":-55,"y2":-19,"v":0.063},{"g":51,"x":83,"y":-43,"y2":-43,"v":0.063},
{"g":52,"x":70,"y":-43,"y2":-43,"v":0.069},{"g":52,"x":75,"y":-50,"y2":-31,"v":0.069},{"g":52,"x":80,"y":-43,"y2":-43,"v":0.069},
{"g":53,"x":73,"y":-43,"y2":-43,"v":0.075},{"g":53,"x":75,"y":-47,"y2":-37,"v":0.075},{"g":53,"x":77,"y":-43,"y2":-43,"v":0.075},
{"g":54,"x":98,"y":23,"y2":23,"v":0.051},{"g":54,"x":137,"y":-16,"y2":17,"v":0.051},{"g":54,"x":147,"y":15,"y2":15,"v":0.051},
{"g":55,"x":99,"y":-46,"y2":-16,"v":0.039},{"g":55,"x":107,"y":-61,"y2":-6,"v":0.039},{"g":55,"x":133,"y":-48,"y2":-46,"v":0.039},{"g":55,"x":135,"y":-46,"y2":-46,"v":0.039},
{"g":56,"x":133,"y":-46,"y2":-46,"v":0.039},{"g":56,"x":165,"y":-67,"y2":-40,"v":0.039},
{"g":57,"x":103,"y":-43,"y2":-43,"v":0.033},{"g":57,"x":107,"y":-49,"y2":-30,"v":0.033},{"g":57,"x":114,"y":-43,"y2":-43,"v":0.033},
{"g":58,"x":155,"y":-105,"y2":-105,"v":0.051},{"g":58,"x":165,"y":-115,"y2":-97,"v":0.051},
{"g":59,"x":4,"y":-136,"y2":-136,"v":0.039},{"g":59,"x":15,"y":-146,"y2":-127,"v":0.039},{"g":59,"x":35,"y":-165,"y2":-132,"v":0.039},{"g":59,"x":73,"y":-165,"y2":-136,"v":0.039},{"g":59,"x":110,"y":-165,"y2":-123,"v":0.039},{"g":59,"x":133,"y":-150,"y2":-115,"v":0.039},{"g":59,"x":157,"y":-134,"y2":-134,"v":0.039},
{"g":60,"x":132,"y":-135,"y2":-135,"v":0.033},{"g":60,"x":135,"y":-138,"y2":-132,"v":0.033},{"g":60,"x":138,"y":-135,"y2":-135,"v":0.033},
{"g":61,"x":50,"y":-165,"y2":-165,"v":0.051},{"g":61,"x":74,"y":-165,"y2":-136,"v":0.051},{"g":61,"x":99,"y":-165,"y2":-165,"v":0.051},
{"g":62,"x":56,"y":-165,"y2":-165,"v":0.057},{"g":62,"x":74,"y":-165,"y2":-143,"v":0.057},{"g":62,"x":90,"y":-165,"y2":-165,"v":0.057},
{"g":63,"x":64,"y":-165,"y2":-165,"v":0.063},{"g":63,"x":74,"y":-165,"y2":-150,"v":0.063},{"g":63,"x":84,"y":-165,"y2":-165,"v":0.063},
{"g":64,"x":68,"y":-165,"y2":-165,"v":0.069},{"g":64,"x":75,"y":-165,"y2":-156,"v":0.069},{"g":64,"x":81,"y":-165,"y2":-165,"v":0.069},
{"g":65,"x":-97,"y":-136,"y2":-136,"v":0.039},{"g":65,"x":-76,"y":-145,"y2":-131,"v":0.039},{"g":65,"x":-69,"y":-137,"y2":-137,"v":0.039},
{"g":66,"x":-69,"y":-165,"y2":-165,"v":0.051},{"g":66,"x":-55,"y":-165,"y2":-133,"v":0.051},{"g":66,"x":-27,"y":-165,"y2":-133,"v":0.051},{"g":66,"x":-11,"y":-133,"y2":-133,"v":0.051},
{"g":67,"x":-50,"y":-165,"y2":-165,"v":0.057},{"g":67,"x":-46,"y":-165,"y2":-150,"v":0.057},{"g":67,"x":-42,"y":-165,"y2":-165,"v":0.057},
{"g":68,"x":8,"y":-165,"y2":-165,"v":0.051},{"g":68,"x":14,"y":-165,"y2":-160,"v":0.051},{"g":68,"x":20,"y":-165,"y2":-165,"v":0.051},
{"g":69,"x":129,"y":-165,"y2":-165,"v":0.051},{"g":69,"x":135,"y":-165,"y2":-161,"v":0.051},{"g":69,"x":143,"y":-165,"y2":-165,"v":0.051}
]},
"hconcat":[
{"width":28,"height":815,"data":{"values":[{"x":0,"y":367,"t":"course-current"}]},"mark":{"type":"text","font":"Open Sans","fontSize":38,"angle":270,"color":"#000"},"encoding":{"x":{"field":"x","type":"quantitative","scale":{"domain":[-1,1]},"axis":null},"y":{"field":"y","type":"quantitative","scale":{"domain":[0,815]},"axis":null},"text":{"field":"t"}}},
{"spacing":18,"hconcat":[
{"spacing":39,"center":true,"vconcat":[
{"bounds":"flush","spacing":24,"hconcat":[
{"width":392,"height":365,"view":{"stroke":"#444"},"encoding":{"x":{"field":"x","type":"quantitative","scale":{"domain":[-165,165],"nice":false,"zero":false},"axis":{"values":[-150,-100,-50,0,50,100,150]}},"y":{"field":"y","type":"quantitative","scale":{"domain":[-165,165],"nice":false,"zero":false},"axis":{"values":[-150,-100,-50,0,50,100,150]}}},"layer":[{"data":{"name":"p1"},"mark":{"type":"area","orient":"vertical","strokeWidth":0.5},"encoding":{"y2":{"field":"y2"},"detail":{"field":"g"},"fill":{"field":"v","type":"quantitative","legend":null,"scale":{"type":"threshold","domain":[0.024,0.03,0.036,0.042,0.048,0.054,0.06,0.066,0.072],"range":["#45115f","#48317f","#3d5089","#2f6b8c","#26808c","#1c9987","#2fb37b","#5fc862","#9bd93c","#e3e413"]}},"stroke":{"field":"v","type":"quantitative","legend":null,"scale":{"type":"threshold","domain":[0.024,0.03,0.036,0.042,0.048,0.054,0.06,0.066,0.072],"range":["#45115f","#48317f","#3d5089","#2f6b8c","#26808c","#1c9987","#2fb37b","#5fc862","#9bd93c","#e3e413"]}}}},{"data":{"values":[{"x":-139.7,"y":145,"t":"TUGBOAT SPEED=6 knot"}]},"mark":{"type":"text","font":"Open Sans","fontSize":24,"color":"#fff","align":"left"},"encoding":{"text":{"field":"t"}}}]},
{"width":19,"height":365,"view":{"stroke":"#444"},"data":{"name":"cb"},"mark":"rect","encoding":{"y":{"field":"a","type":"quantitative","scale":{"domain":[0.018,0.078],"nice":false,"zero":false},"axis":{"orient":"right","values":[0.018,0.03,0.042,0.054,0.066,0.078],"format":".3f","labelFontSize":13,"labelPadding":4,"tickSize":5}},"y2":{"field":"b"},"color":{"field":"v","type":"quantitative","legend":null,"scale":{"type":"threshold","domain":[0.024,0.03,0.036,0.042,0.048,0.054,0.06,0.066,0.072],"range":["#45115f","#48317f","#3d5089","#2f6b8c","#26808c","#1c9987","#2fb37b","#5fc862","#9bd93c","#e3e413"]}}}}
]},
{"bounds":"flush","spacing":23,"hconcat":[
{"width":386,"height":358,"view":{"stroke":"#444"},"encoding":{"x":{"field":"x","type":"quantitative","scale":{"domain":[-165,165],"nice":false,"zero":false},"axis":{"values":[-150,-100,-50,0,50,100,150]}},"y":{"field":"y","type":"quantitative","scale":{"domain":[-165,165],"nice":false,"zero":false},"axis":{"values":[-150,-100,-50,0,50,100,150],"labelPadding":1}}},"layer":[{"data":{"name":"p23"},"mark":{"type":"area","orient":"vertical","strokeWidth":0.5},"encoding":{"y2":{"field":"y2"},"detail":{"field":"g"},"fill":{"field":"v","type":"quantitative","legend":null,"scale":{"type":"threshold","domain":[0.024,0.03,0.036,0.042,0.048,0.054,0.06,0.066,0.072],"range":["#45115f","#48317f","#3d5089","#2f6b8c","#26808c","#1c9987","#2fb37b","#5fc862","#9bd93c","#e3e413"]}},"stroke":{"field":"v","type":"quantitative","legend":null,"scale":{"type":"threshold","domain":[0.024,0.03,0.036,0.042,0.048,0.054,0.06,0.066,0.072],"range":["#45115f","#48317f","#3d5089","#2f6b8c","#26808c","#1c9987","#2fb37b","#5fc862","#9bd93c","#e3e413"]}}}},{"data":{"values":[{"x":-143.6,"y":131,"t":"TUGBOAT SPEED=8 knot"}]},"mark":{"type":"text","font":"Open Sans","fontSize":24,"color":"#fff","align":"left"},"encoding":{"text":{"field":"t"}}}]},
{"width":19,"height":358,"view":{"stroke":"#444"},"data":{"name":"cb"},"mark":"rect","encoding":{"y":{"field":"a","type":"quantitative","scale":{"domain":[0.018,0.078],"nice":false,"zero":false},"axis":{"orient":"right","values":[0.018,0.03,0.042,0.054,0.066,0.078],"format":".3f","labelFontSize":13,"labelPadding":4,"tickSize":5}},"y2":{"field":"b"},"color":{"field":"v","type":"quantitative","legend":null,"scale":{"type":"threshold","domain":[0.024,0.03,0.036,0.042,0.048,0.054,0.06,0.066,0.072],"range":["#45115f","#48317f","#3d5089","#2f6b8c","#26808c","#1c9987","#2fb37b","#5fc862","#9bd93c","#e3e413"]}}}}
]}
]},
{"spacing":21,"vconcat":[
{"bounds":"flush","spacing":23,"hconcat":[
{"width":396,"height":366,"view":{"stroke":"#444"},"encoding":{"x":{"field":"x","type":"quantitative","scale":{"domain":[-165,165],"nice":false,"zero":false},"axis":{"values":[-150,-100,-50,0,50,100,150]}},"y":{"field":"y","type":"quantitative","scale":{"domain":[-165,165],"nice":false,"zero":false},"axis":{"values":[-150,-100,-50,0,50,100,150]}}},"layer":[{"data":{"name":"p23"},"mark":{"type":"area","orient":"vertical","strokeWidth":0.5},"encoding":{"y2":{"field":"y2"},"detail":{"field":"g"},"fill":{"field":"v","type":"quantitative","legend":null,"scale":{"type":"threshold","domain":[0.024,0.03,0.036,0.042,0.048,0.054,0.06,0.066,0.072],"range":["#45115f","#48317f","#3d5089","#2f6b8c","#26808c","#1c9987","#2fb37b","#5fc862","#9bd93c","#e3e413"]}},"stroke":{"field":"v","type":"quantitative","legend":null,"scale":{"type":"threshold","domain":[0.024,0.03,0.036,0.042,0.048,0.054,0.06,0.066,0.072],"range":["#45115f","#48317f","#3d5089","#2f6b8c","#26808c","#1c9987","#2fb37b","#5fc862","#9bd93c","#e3e413"]}}}},{"data":{"values":[{"x":-157.5,"y":143.4,"t":"TUGBOAT SPEED=7 knot"}]},"mark":{"type":"text","font":"Open Sans","fontSize":24,"color":"#fff","align":"left"},"encoding":{"text":{"field":"t"}}},{"data":{"values":[{"x":-213.3,"x2":-200,"y":-165}]},"mark":{"type":"rule","opacity":0},"encoding":{"x2":{"field":"x2"}}}]},
{"width":19,"height":366,"view":{"stroke":"#444"},"data":{"name":"cb"},"mark":"rect","encoding":{"y":{"field":"a","type":"quantitative","scale":{"domain":[0.018,0.078],"nice":false,"zero":false},"axis":{"orient":"right","values":[0.018,0.03,0.042,0.054,0.066,0.078],"format":".3f","labelFontSize":13,"labelPadding":4,"tickSize":5}},"y2":{"field":"b"},"color":{"field":"v","type":"quantitative","legend":null,"scale":{"type":"threshold","domain":[0.024,0.03,0.036,0.042,0.048,0.054,0.06,0.066,0.072],"range":["#45115f","#48317f","#3d5089","#2f6b8c","#26808c","#1c9987","#2fb37b","#5fc862","#9bd93c","#e3e413"]}}}}
]},
{"bounds":"flush","spacing":24,"hconcat":[
{"width":395,"height":367,"view":{"stroke":"#444"},"encoding":{"x":{"field":"x","type":"quantitative","scale":{"domain":[-165,165],"nice":false,"zero":false},"axis":{"values":[-150,-100,-50,0,50,100,150]}},"y":{"field":"y","type":"quantitative","scale":{"domain":[-165,165],"nice":false,"zero":false},"axis":{"values":[-150,-100,-50,0,50,100,150]}}},"layer":[{"data":{"name":"p4"},"mark":{"type":"area","orient":"vertical","strokeWidth":0.5},"encoding":{"y2":{"field":"y2"},"detail":{"field":"g"},"fill":{"field":"v","type":"quantitative","legend":null,"scale":{"type":"threshold","domain":[0.024,0.03,0.036,0.042,0.048,0.054,0.06,0.066,0.072],"range":["#45115f","#48317f","#3d5089","#2f6b8c","#26808c","#1c9987","#2fb37b","#5fc862","#9bd93c","#e3e413"]}},"stroke":{"field":"v","type":"quantitative","legend":null,"scale":{"type":"threshold","domain":[0.024,0.03,0.036,0.042,0.048,0.054,0.06,0.066,0.072],"range":["#45115f","#48317f","#3d5089","#2f6b8c","#26808c","#1c9987","#2fb37b","#5fc862","#9bd93c","#e3e413"]}}}},{"data":{"values":[{"x":-142.4,"y":130.8,"t":"TUGBOAT SPEED=9 knot"}]},"mark":{"type":"text","font":"Open Sans","fontSize":24,"color":"#fff","align":"left"},"encoding":{"text":{"field":"t"}}},{"data":{"values":[{"x":-213.5,"x2":248.5,"y":-193}]},"mark":{"type":"rule","color":"#ccc","strokeWidth":1},"encoding":{"x2":{"field":"x2"}}}]},
{"width":19,"height":367,"view":{"stroke":"#444"},"data":{"name":"cb"},"mark":"rect","encoding":{"y":{"field":"a","type":"quantitative","scale":{"domain":[0.018,0.078],"nice":false,"zero":false},"axis":{"orient":"right","values":[0.018,0.03,0.042,0.054,0.066,0.078],"format":".3f","labelFontSize":13,"labelPadding":4,"tickSize":5}},"y2":{"field":"b"},"color":{"field":"v","type":"quantitative","legend":null,"scale":{"type":"threshold","domain":[0.024,0.03,0.036,0.042,0.048,0.054,0.06,0.066,0.072],"range":["#45115f","#48317f","#3d5089","#2f6b8c","#26808c","#1c9987","#2fb37b","#5fc862","#9bd93c","#e3e413"]}}}}
]}
]}
]}
]}
